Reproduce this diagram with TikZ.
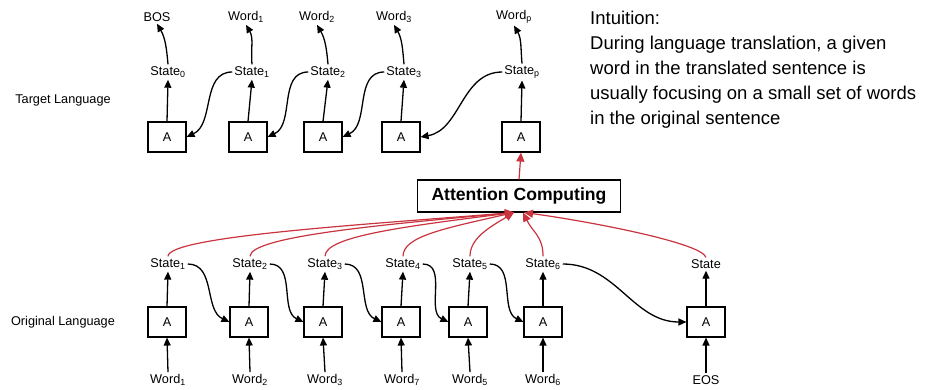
\documentclass[tikz,border=0pt]{standalone}
\usepackage{fontspec}
\setmainfont{Liberation Sans}
\usetikzlibrary{arrows.meta}
\definecolor{attred}{HTML}{C9343F}

\begin{document}
\begin{tikzpicture}[x=1pt, y=1pt,
  cell/.style   ={draw, line width=1.1pt, minimum width=38pt,
                  minimum height=30pt, inner sep=0pt,
                  font=\fontsize{12.7}{15}\selectfont},
  lbl/.style    ={inner sep=2pt, font=\fontsize{12.7}{15}\selectfont},
  attbox/.style ={draw, line width=1.1pt, minimum width=203pt,
                  minimum height=32pt, inner sep=0pt,
                  font=\fontsize{17.6}{20}\selectfont\bfseries},
  note/.style   ={align=left, anchor=north west, inner sep=0pt,
                  font=\fontsize{18.5}{25}\selectfont},
  arr/.style    ={-{Triangle[length=8pt,width=7pt]}, line width=1.3pt},
  attarr/.style ={-{Triangle[length=9pt,width=8pt]}, attred, line width=1.2pt}
]
  \useasboundingbox (0,0) rectangle (934,389);

  % target language side
  \node[lbl]  (tl) at ( 63,289) {Target Language};
  \node[cell] (a0) at (167,252) {A};
  \node[cell] (a1) at (248,252) {A};
  \node[cell] (a2) at (323,252) {A};
  \node[cell] (a3) at (401,252) {A};
  \node[cell] (a4) at (521,252) {A};
  \node[lbl]  (s0) at (168,317) {State\textsubscript{0}};
  \node[lbl]  (s1) at (252,317) {State\textsubscript{1}};
  \node[lbl]  (s2) at (328,317) {State\textsubscript{2}};
  \node[lbl]  (s3) at (404,317) {State\textsubscript{3}};
  \node[lbl]  (s4) at (522,317) {State\textsubscript{p}};
  \node[lbl]  (y0) at (157,372) {BOS};
  \node[lbl]  (y1) at (246,372) {Word\textsubscript{1}};
  \node[lbl]  (y2) at (317,372) {Word\textsubscript{2}};
  \node[lbl]  (y3) at (394,372) {Word\textsubscript{3}};
  \node[lbl]  (y4) at (514,372) {Word\textsubscript{p}};

  \draw[arr] (a0.north) -- (s0.south);
  \draw[arr] (a1.north) -- (s1.south);
  \draw[arr] (a2.north) -- (s2.south);
  \draw[arr] (a3.north) -- (s3.south);
  \draw[arr] (a4.north) -- (s4.south);
  \draw[arr] (s0.north) to[out=95,in=-60] (y0.south);
  \draw[arr] (s1.north) to[out=95,in=-60] (y1.south);
  \draw[arr] (s2.north) to[out=95,in=-60] (y2.south);
  \draw[arr] (s3.north) to[out=95,in=-60] (y3.south);
  \draw[arr] (s4.north) to[out=95,in=-60] (y4.south);
  \draw[arr] (s1.west) to[out=180,in=25] (a0.east);
  \draw[arr] (s2.west) to[out=180,in=25] (a1.east);
  \draw[arr] (s3.west) to[out=180,in=25] (a2.east);
  \draw[arr] (s4.west) to[out=180,in=10] (a3.east);

  % attention
  \node[attbox] (att) at (519,193) {Attention Computing};
  \draw[attarr] (att.north) -- (a4.south);

  % original language side
  \node[lbl]  (ol) at ( 63, 67) {Original Language};
  \node[cell] (b1) at (167, 67) {A};
  \node[cell] (b2) at (249, 67) {A};
  \node[cell] (b3) at (323, 67) {A};
  \node[cell] (b4) at (401, 67) {A};
  \node[cell] (b5) at (468, 67) {A};
  \node[cell] (b6) at (543, 67) {A};
  \node[cell] (b7) at (706, 67) {A};
  \node[lbl]  (h1) at (168,125) {State\textsubscript{1}};
  \node[lbl]  (h2) at (250,125) {State\textsubscript{2}};
  \node[lbl]  (h3) at (325,125) {State\textsubscript{3}};
  \node[lbl]  (h4) at (403,125) {State\textsubscript{4}};
  \node[lbl]  (h5) at (470,125) {State\textsubscript{5}};
  \node[lbl]  (h6) at (543,125) {State\textsubscript{6}};
  \node[lbl]  (h7) at (706,125) {State};
  \node[lbl]  (w1) at (168,  9) {Word\textsubscript{1}};
  \node[lbl]  (w2) at (250,  9) {Word\textsubscript{2}};
  \node[lbl]  (w3) at (325,  9) {Word\textsubscript{3}};
  \node[lbl]  (w4) at (402,  9) {Word\textsubscript{7}};
  \node[lbl]  (w5) at (470,  9) {Word\textsubscript{5}};
  \node[lbl]  (w6) at (543,  9) {Word\textsubscript{6}};
  \node[lbl]  (w7) at (706,  9) {EOS};

  \draw[arr] (w1.north) -- (b1.south);
  \draw[arr] (w2.north) -- (b2.south);
  \draw[arr] (w3.north) -- (b3.south);
  \draw[arr] (w4.north) -- (b4.south);
  \draw[arr] (w5.north) -- (b5.south);
  \draw[arr] (w6.north) -- (b6.south);
  \draw[arr] (w7.north) -- (b7.south);
  \draw[arr] (b1.north) -- (h1.south);
  \draw[arr] (b2.north) -- (h2.south);
  \draw[arr] (b3.north) -- (h3.south);
  \draw[arr] (b4.north) -- (h4.south);
  \draw[arr] (b5.north) -- (h5.south);
  \draw[arr] (b6.north) -- (h6.south);
  \draw[arr] (b7.north) -- (h7.south);
  \draw[arr] (h1.east) to[out=0,in=155] (b2.west);
  \draw[arr] (h2.east) to[out=0,in=155] (b3.west);
  \draw[arr] (h3.east) to[out=0,in=155] (b4.west);
  \draw[arr] (h4.east) to[out=0,in=155] (b5.west);
  \draw[arr] (h5.east) to[out=0,in=155] (b6.west);
  \draw[arr] (h6.east) to[out=0,in=180] (b7.west);

  % states feeding the attention
  \draw[attarr] (h1.north) .. controls +(0,20) and +(-150,-12) .. ([xshift=-5pt]att.south);
  \draw[attarr] (h2.north) .. controls +(0,20) and +(-130,-12) .. ([xshift=-5pt]att.south);
  \draw[attarr] (h3.north) .. controls +(0,20) and +(-110,-14) .. ([xshift=-5pt]att.south);
  \draw[attarr] (h4.north) .. controls +(0,20) and +(-70,-16)  .. ([xshift=-5pt]att.south);
  \draw[attarr] (h5.north) .. controls +(0,18) and +(-25,-15)  .. ([xshift=-5pt]att.south);
  \draw[attarr] (h6.north) .. controls +(0,20) and +(10,-20)   .. ([xshift=4pt]att.south);
  \draw[attarr] (h7.north) .. controls +(-5,15) and +(60,-8)   .. ([xshift=5pt]att.south);

  \node[note] (intu) at (590,378) {Intuition:\\
    During language translation, a given\\
    word in the translated sentence is\\
    usually focusing on a small set of words\\
    in the original sentence};
\end{tikzpicture}
\end{document}
